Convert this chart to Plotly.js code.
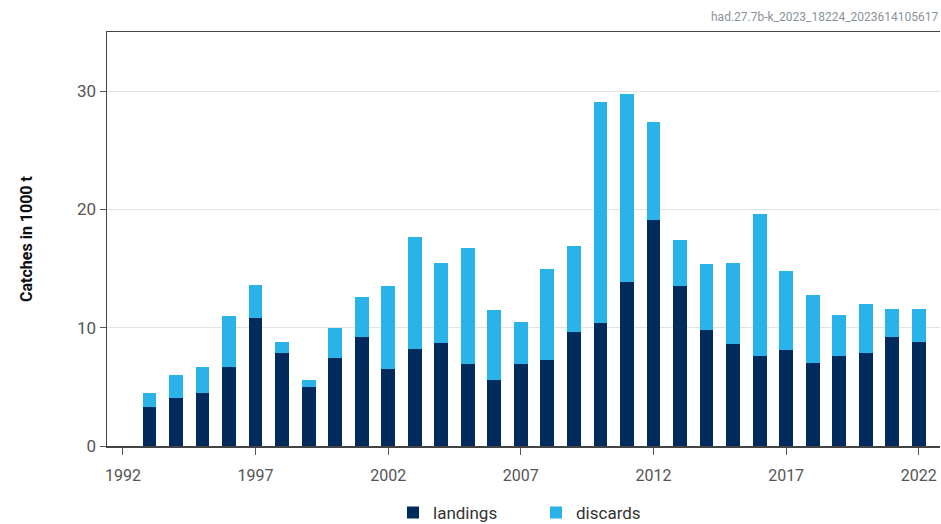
<!DOCTYPE html>
<html>
<head>
<meta charset="utf-8">
<script src="https://cdn.plot.ly/plotly-3.0.1.min.js"></script>
<style>
  html, body { margin: 0; padding: 0; background: #fff; }
  #chart { width: 941px; height: 524px; }
</style>
</head>
<body>
<div id="chart"></div>
<script>
const years = [1993, 1994, 1995, 1996, 1997, 1998, 1999, 2000, 2001, 2002,
               2003, 2004, 2005, 2006, 2007, 2008, 2009, 2010, 2011, 2012,
               2013, 2014, 2015, 2016, 2017, 2018, 2019, 2020, 2021, 2022]

// landings (1000 t)
const landings = [3.3, 4.1, 4.5, 6.7, 10.8, 7.9, 5.0, 7.4, 9.2, 6.5,
                  8.2, 8.7, 6.9, 5.6, 6.9, 7.3, 9.6, 10.4, 13.9, 19.1,
                  13.5, 9.8, 8.6, 7.6, 8.1, 7.0, 7.6, 7.9, 9.2, 8.8]

// discards (1000 t)
const discards = [1.2, 1.9, 2.2, 4.3, 2.8, 0.9, 0.6, 2.6, 3.4, 7.0,
                  9.5, 6.8, 9.8, 5.9, 3.6, 7.7, 7.3, 18.7, 15.9, 8.3,
                  3.9, 5.6, 6.9, 12.0, 6.7, 5.8, 3.5, 4.1, 2.4, 2.8]

const xTicks = [1992, 1997, 2002, 2007, 2012, 2017, 2022]
const yTicks = [0, 10, 20, 30]
const stamp = 'had.27.7b-k_2023_18224_2023614105617'

const font = 'Roboto, "DejaVu Sans", sans-serif'

const data = [
    {
        x: years,
        y: landings,
        type: 'bar',
        name: 'landings',
        width: 0.52,
        marker: { color: '#002b5c' }
    },
    {
        x: years,
        y: discards,
        type: 'bar',
        name: 'discards',
        width: 0.52,
        marker: { color: '#29b3e8' }
    }
]

const layout = {
    width: 941,
    height: 524,
    barmode: 'stack',
    paper_bgcolor: '#fff',
    plot_bgcolor: '#fff',
    margin: { l: 107, r: 1, t: 32, b: 78, autoexpand: false },
    font: { family: font, size: 16, color: '#555' },
    showlegend: true,
    legend: {
        orientation: 'h',
        x: 0.515, xanchor: 'center',
        y: -0.118, yanchor: 'top',
        font: { family: font, size: 17, color: '#333' },
        traceorder: 'normal',
        itemwidth: 30,
        entrywidth: 98
    },
    xaxis: {
        range: [1991.4, 2022.8],
        tickvals: xTicks,
        ticktext: xTicks.map(String),
        ticks: 'outside',
        ticklen: 7,
        tickcolor: '#555',
        ticklabelstandoff: 7,
        showline: true,
        linecolor: '#444',
        linewidth: 1.5,
        mirror: true,
        showgrid: false,
        zeroline: false,
        tickfont: { family: font, size: 16, color: '#555' }
    },
    yaxis: {
        range: [0, 35],
        tickvals: yTicks,
        ticks: 'outside',
        ticklen: 6,
        tickcolor: '#555',
        showline: true,
        linecolor: '#444',
        linewidth: 1.5,
        showgrid: true,
        gridcolor: '#e3e3e3',
        zeroline: false,
        tickfont: { family: font, size: 17, color: '#555' },
        title: {
            text: '<b>Catches in 1000 t</b>',
            font: { family: font, size: 16, color: '#111' },
            standoff: 40
        }
    },
    annotations: [{
        xref: 'paper',
        yref: 'paper',
        x: 1,
        xanchor: 'right',
        y: 1,
        yanchor: 'bottom',
        yshift: 6,
        text: stamp,
        showarrow: false,
        font: { family: font, size: 12, color: '#8a929c' }
    }]
}

Plotly.newPlot('chart', data, layout, { displayModeBar: false, staticPlot: true })
</script>
</body>
</html>
